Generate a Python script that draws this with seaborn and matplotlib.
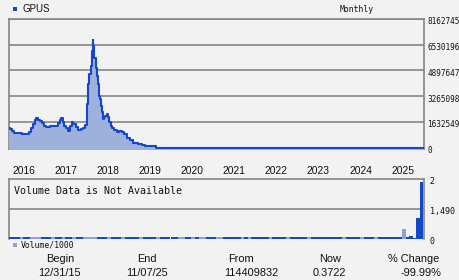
import matplotlib
matplotlib.use("Agg")
import matplotlib.pyplot as plt
import matplotlib.dates as mdates
from matplotlib.patches import Rectangle
from matplotlib.transforms import ScaledTranslation
import seaborn as sns
import pandas as pd

# ---------------- data ----------------
symbol = "GPUS"
price_dates = [
    "2015-12-31", "2016-01-08", "2016-01-23", "2016-02-12", "2016-03-07", "2016-04-04",
    "2016-04-19", "2016-05-18", "2016-06-10", "2016-06-21", "2016-07-09", "2016-07-29",
    "2016-08-12", "2016-08-24", "2016-09-05", "2016-09-22", "2016-10-09", "2016-10-27",
    "2016-11-13", "2016-12-06", "2016-12-20", "2017-01-18", "2017-02-17", "2017-03-02",
    "2017-03-17", "2017-03-28", "2017-04-10", "2017-04-23", "2017-05-11", "2017-05-28",
    "2017-06-12", "2017-06-27", "2017-07-10", "2017-07-31", "2017-08-23", "2017-09-15",
    "2017-10-05", "2017-10-20", "2017-11-04", "2017-11-09", "2017-11-18", "2017-11-26",
    "2017-12-08", "2017-12-17", "2017-12-26", "2017-12-31", "2018-01-09", "2018-01-21",
    "2018-01-29", "2018-02-07", "2018-02-18", "2018-02-27", "2018-03-08", "2018-03-16",
    "2018-03-28", "2018-04-05", "2018-04-14", "2018-04-26", "2018-05-05", "2018-05-16",
    "2018-05-31", "2018-06-14", "2018-07-01", "2018-07-22", "2018-08-13", "2018-09-03",
    "2018-09-23", "2018-10-16", "2018-11-14", "2018-12-13", "2019-01-25", "2019-02-24",
    "2019-03-24", "2019-06-30", "2020-06-30", "2025-11-07",
]
price_millions = [
    1.23, 1.15, 1.03, 0.94, 0.92, 0.92,
    0.84, 0.84, 0.84, 0.98, 1.23, 1.51,
    1.72, 1.86, 1.76, 1.67, 1.55, 1.36,
    1.32, 1.32, 1.40, 1.40, 1.34, 1.55,
    1.72, 1.86, 1.65, 1.40, 1.23, 1.03,
    1.34, 1.61, 1.47, 1.28, 1.09, 1.15,
    1.23, 1.45, 2.13, 2.76, 4.02, 4.65,
    5.17, 6.11, 6.84, 6.43, 5.69, 5.07,
    4.54, 4.02, 3.29, 3.08, 2.66, 2.24,
    1.82, 1.93, 2.03, 2.13, 1.93, 1.61,
    1.40, 1.26, 1.13, 0.98, 1.05, 0.98,
    0.88, 0.61, 0.50, 0.31, 0.25, 0.19,
    0.08, 0.0, 0.0, 0.0,
]
price_ticks = [0, 1632549, 3265098, 4897647, 6530196, 8162745]
price_tick_labels = ["0", "1632549", "3265098", "4897647", "6530196", "8162745"]

years = ["2016", "2017", "2018", "2019", "2020", "2021", "2022", "2023", "2024", "2025"]

# monthly volume (thousands), Jan 2016 .. Oct 2025
vol_values = (
    [0.08] * 12 + [0.08] * 12 + [0.07] * 12 + [0.07] * 12 + [0.07] * 12 +
    [0.07] * 12 + [0.07] * 12 + [0.07] * 12 + [0.07] * 12 +
    [0.07, 0.07, 0.07, 0.07, 0.33, 0.07, 0.10, 0.05, 0.71, 1.91]
)
vol_up = (
    [1, 1, 1, 0, 1, 1, 0, 0, 0, 1, 1, 1] +
    [0, 1, 1, 0, 1, 1, 0, 1, 1, 0, 0, 0] +
    [0, 1, 1, 1, 0, 1, 1, 1, 0, 1, 1, 1] +
    [1, 0, 1, 1, 1, 1, 0, 1, 1, 1, 1, 1] +
    [0, 0, 1, 1, 0, 1, 0, 0, 1, 1, 1, 0] +
    [0, 1, 1, 1, 1, 1, 0, 1, 0, 1, 1, 1] +
    [1, 1, 0, 1, 1, 1, 1, 0, 1, 1, 1, 1] +
    [1, 0, 1, 1, 1, 1, 1, 1, 1, 1, 1, 0] +
    [1, 1, 1, 1, 0, 1, 1, 1, 0, 1, 1, 1] +
    [1, 1, 1, 1, 0, 1, 1, 1, 1, 1]
)
vol_ticks = [0, 1, 2]
vol_tick_labels = ["0", "1,490", "2"]

begin_date, end_date = "2015-12-31", "2025-11-07"
table_headers = ["Begin", "End", "From", "Now", "% Change"]
table_values = ["12/31/15", "11/07/25", "114409832", "0.3722", "-99.99%"]

# ---------------- style ----------------
BG = "#f2f2f2"
BLUE = "#1448c8"
FILL = "#9eb0dc"
LIGHT = "#8ea2cf"
GRID = "#858585"
SANS = "Liberation Sans"
MONO = "DejaVu Sans Mono"

sns.set_theme(style="white")
plt.rcParams["font.family"] = [SANS, "DejaVu Sans"]

W, H = 460, 280
fig = plt.figure(figsize=(W / 100, H / 100), dpi=100, facecolor=BG)


def fx(px):
    return px / W


def fy(py):
    return 1 - py / H


# ---------------- price panel ----------------
ax1 = fig.add_axes([fx(9), fy(149), fx(415), 130 / H], facecolor=BG)
pdf = pd.DataFrame({"date": pd.to_datetime(price_dates),
                    "price": [v * 1e6 for v in price_millions]})
ymin = -0.09e6
ax1.fill_between(pdf["date"], pdf["price"], ymin - 0.1e6, step="post", color=FILL, lw=0,
                 zorder=2.6, clip_on=True)
sns.lineplot(data=pdf, x="date", y="price", ax=ax1, color=BLUE, lw=1.5,
             drawstyle="steps-post", zorder=3)
ax1.set_xlim(pd.Timestamp(begin_date), pd.Timestamp(end_date))
ax1.set_ylim(ymin, price_ticks[-1])
ax1.set_yticks(price_ticks)
ax1.set_yticklabels(price_tick_labels, family=MONO, fontsize=5.6)
ax1.yaxis.tick_right()
ax1.tick_params(axis="y", length=0, pad=2.3, colors="#111111")
for lab in ax1.get_yticklabels():
    lab.set_transform(lab.get_transform() + ScaledTranslation(0, -2 / 100, fig.dpi_scale_trans))
ax1.set_xticks([])
ax1.set_xlabel("")
ax1.set_ylabel("")
ax1.grid(False)
for t in price_ticks[1:]:
    ax1.axhline(t, color=GRID, lw=1.2, zorder=1)
for s in ax1.spines.values():
    s.set_color(GRID)
    s.set_linewidth(1.2)

# year labels between panels
ytrans = ax1.get_xaxis_transform() + ScaledTranslation(3 / 100, 0, fig.dpi_scale_trans)
for yr in years:
    ax1.text(pd.Timestamp(f"{yr}-01-01"), (149 - 170.5) / 130, yr, transform=ytrans,
             ha="left", va="center", fontsize=7.4, family=SANS, color="#111111", clip_on=False)

# ---------------- volume panel ----------------
ax2 = fig.add_axes([fx(9), fy(239), fx(415), 60 / H], facecolor=BG)
vol_dates = pd.date_range("2016-01-01", periods=len(vol_values), freq="MS") + pd.Timedelta(days=15)
vdf = pd.DataFrame({"x": mdates.date2num(vol_dates), "vol": vol_values,
                    "dir": ["up" if u else "down" for u in vol_up]})
sns.barplot(data=vdf, x="x", y="vol", hue="dir", palette={"up": BLUE, "down": LIGHT},
            native_scale=True, dodge=False, width=1.1, legend=False, saturation=1,
            ax=ax2, linewidth=0, zorder=3)
ax2.set_xlim(mdates.date2num(pd.Timestamp(begin_date)), mdates.date2num(pd.Timestamp(end_date)))
ax2.set_ylim(0, 2)
ax2.set_yticks(vol_ticks)
ax2.set_yticklabels(vol_tick_labels, family=MONO, fontsize=6.0)
ax2.yaxis.tick_right()
ax2.tick_params(axis="y", length=0, pad=4, colors="#111111")
for lab in ax2.get_yticklabels():
    lab.set_transform(lab.get_transform() + ScaledTranslation(0, -1.5 / 100, fig.dpi_scale_trans))
ax2.set_xticks([])
ax2.set_xlabel("")
ax2.set_ylabel("")
ax2.grid(False)
ax2.axhline(1, color=GRID, lw=1.2, zorder=1)
for name, s in ax2.spines.items():
    s.set_color(GRID)
    s.set_linewidth(1.2)
ax2.spines["bottom"].set_visible(False)
ax2.text(5 / 415, 1 - (191.3 - 179) / 60, "Volume Data is Not Available",
         transform=ax2.transAxes, ha="left", va="center", family=MONO, fontsize=7.2, color="#111111")

# ---------------- legends / labels ----------------
fig.patches.append(Rectangle((fx(13.3), fy(11.3)), fx(4), 4 / H, transform=fig.transFigure,
                             color=BLUE, lw=0))
fig.text(fx(22.5), fy(8.7), symbol, ha="left", va="center", fontsize=7.0, family=SANS, color="#111111")
fig.text(fx(340), fy(9), "Monthly", ha="left", va="center", fontsize=5.9, family=MONO, color="#111111")
fig.patches.append(Rectangle((fx(13.3), fy(247.3)), fx(4), 4 / H, transform=fig.transFigure,
                             color=LIGHT, lw=0))
fig.text(fx(20.5), fy(244.7), "Volume/1000", ha="left", va="center", fontsize=5.9, family=MONO,
         color="#111111")

# ---------------- bottom table ----------------
head_x = [60, 146.5, 241, 330, 414]
val_x = [59.5, 147.5, 251, 329.5, 420.5]
for hx, h in zip(head_x, table_headers):
    fig.text(fx(hx), fy(259.5), h, ha="center", va="center", fontsize=7.9, family=SANS, color="#111111")
for vx, v in zip(val_x, table_values):
    fig.text(fx(vx), fy(272.5), v, ha="center", va="center", fontsize=7.9, family=SANS, color="#111111")

fig.savefig("out.png", dpi=100, facecolor=BG)
